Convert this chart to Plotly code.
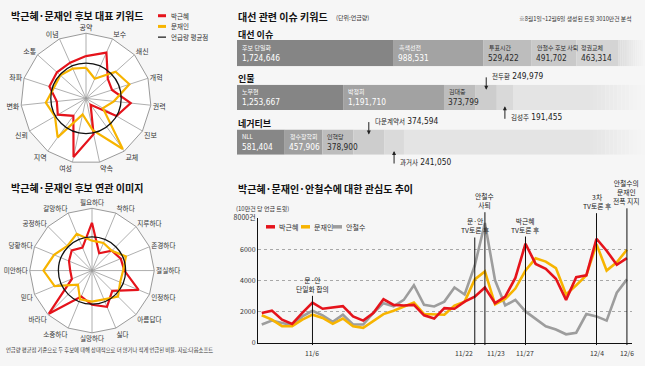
import plotly.graph_objects as go

W, H = 645, 366
BG = '#f6f6f6'
FONT = 'Noto Sans CJK KR, Noto Sans, sans-serif'
NARROW = 'Liberation Sans Narrow, DejaVu Sans Condensed, Noto Sans CJK KR, sans-serif'
RED = '#e5131b'
YEL = '#f7b400'
GRY = '#9d9d9d'

# ---------------- data ----------------
# radar 1: 대표 키워드 (outer ring = 1, 평균 = avg_level)
kw_cats = ['공약', '보수', '쇄신', '개혁', '권력', '진보', '교체', '약속',
           '여성', '지역', '신뢰', '변화', '좌파', '소통', '이념']
kw_park = [0.65, 0.77, 0.45, 0.42, 0.69, 0.54, 0.12, 0.56,
           0.92, 0.33, 0.50, 0.45, 0.59, 0.60, 0.60]
kw_moon = [0.47, 0.33, 0.61, 0.70, 0.43, 0.30, 0.96, 0.50,
           0.25, 0.74, 0.55, 0.62, 0.52, 0.53, 0.50]

# radar 2: 연관 이미지
img_cats = ['필요하다', '착하다', '지루하다', '존경하다', '절실하다', '인정하다',
            '아름답다', '싫다', '실망하다', '소중하다', '바라다', '믿다',
            '미안하다', '당황하다', '공정하다', '갈망하다']
img_park = [0.77, 0.30, 0.45, 0.50, 0.52, 0.81, 0.46, 0.63,
            0.55, 0.45, 0.98, 0.35, 0.35, 0.40, 0.46, 0.40]
img_moon = [0.48, 0.48, 0.45, 0.59, 0.50, 0.49, 0.59, 0.50,
            0.50, 0.50, 0.32, 0.65, 0.78, 0.66, 0.56, 0.64]
avg_level = 0.54

# 대선 관련 이슈 키워드 (언급량)
issue_names = ['후보 단일화', '흑색선전', '투표시간', '안철수 후보 사퇴', '정권교체']
issue_vals = [1724646, 988531, 529422, 491702, 463314]
people_names = ['노무현', '박정희', '김대중', '전두환', '김성주']
people_vals = [1253667, 1191710, 373799, 249979, 191455]
neg_names = ['NLL', '정수장학회', '인혁당', '다운계약서', '과거사']
neg_vals = [581404, 457906, 378900, 374594, 241050]

# 관심도 추이 (10만건 당 언급 트윗), 일별
park_trend = [1900, 2050, 1470, 1200, 1900, 2570, 2170, 2250, 2340, 1680, 1410, 1900,
              2780, 2420, 2380, 2420, 1750, 1540, 2210, 2170, 2630, 2950, 3540, 2530,
              2950, 4150, 6350, 5050, 4740, 4100, 2740, 4200, 4320, 6670, 5900, 5000, 5430]
moon_trend = [1750, 1470, 1050, 1050, 1470, 1790, 1580, 1200, 1540, 1050, 950, 1370,
              1830, 2040, 2320, 2570, 1830, 1830, 1790, 2380, 2630, 4060, 4570, 2460,
              2800, 3470, 4630, 5410, 5200, 4780, 3090, 3680, 4320, 6320, 4630, 5160, 5960]
ahn_trend = [1160, 1410, 1260, 1120, 1680, 2040, 1750, 1330, 1790, 1160, 1160, 1900,
             2530, 2320, 2740, 3680, 2420, 2320, 2630, 3540, 3090, 4950, 7680, 4000,
             2380, 2740, 2000, 1540, 1050, 840, 530, 630, 1830, 1680, 1410, 3200, 4060]
day_index = list(range(len(park_trend)))
event_idx = [5, 21, 22, 26, 33, 36]
event_dates = ['11/6', '11/22', '11/23', '11/27', '12/4', '12/6']
event_texts = ['문·안<br>단일화 합의', '문·안<br>TV토론 후', '안철수<br>사퇴',
               '박근혜<br>TV토론 후', '3차<br>TV토론 후', '안철수의<br>문재인<br>전폭 지지']
y_ticks = [0, 2000, 4000, 6000, 8000]
y_ticktext = ['0', '2000', '4000', '6000', '8000건']

# ---------------- layout helpers ----------------
def px(x):
    return x / W

def py(y):
    return 1 - y / H

def ydom(top, bottom):
    return [1 - bottom / H, 1 - top / H]

def closed(a):
    return list(a) + [a[0]]

fig = go.Figure()
annotations = []
shapes = []

# ---------------- radars ----------------
radars = [
    ('polar', 'polar2', kw_cats, kw_park, kw_moon, (86, 95), 67, 7),
    ('polar3', 'polar4', img_cats, img_park, img_moon, (92, 272), 64, 6.6),
]
for pmain, pcirc, cats, pk, mn, (cx, cy), half, fs in radars:
    fig.add_trace(go.Scatterpolar(r=closed(pk), theta=closed(cats), mode='lines',
                                  line=dict(color=RED, width=2.2), subplot=pmain,
                                  name='박근혜', showlegend=False))
    fig.add_trace(go.Scatterpolar(r=closed(mn), theta=closed(cats), mode='lines',
                                  line=dict(color=YEL, width=2.2), subplot=pmain,
                                  name='문재인', showlegend=False))
    fig.add_trace(go.Scatterpolar(r=[0], theta=[0], mode='markers',
                                  marker=dict(size=1, opacity=0), subplot=pcirc,
                                  showlegend=False, hoverinfo='skip'))
    dom = dict(x=[px(cx - half), px(cx + half)], y=ydom(cy - half, cy + half))
    fig.layout[pmain] = dict(
        domain=dom, bgcolor='white', gridshape='linear',
        angularaxis=dict(type='category', categoryarray=cats, rotation=90,
                         direction='clockwise', showgrid=True, gridcolor='#9a9a9a',
                         gridwidth=0.8, showline=True, linecolor='#9a9a9a',
                         linewidth=1, ticks='', tickfont=dict(size=fs, color='#333')),
        radialaxis=dict(range=[0, 1], showgrid=False, showline=False,
                        showticklabels=False, ticks=''))
    fig.layout[pcirc] = dict(
        domain=dom, bgcolor='rgba(0,0,0,0)',
        angularaxis=dict(showgrid=False, showline=False, showticklabels=False, ticks=''),
        radialaxis=dict(range=[0, 1], tickvals=[avg_level], showgrid=True,
                        gridcolor='#111', gridwidth=1.3, showline=False,
                        showticklabels=False, ticks=''))

# radar legend (manual)
for i, (lbl, col, wd) in enumerate([('박근혜', RED, 3), ('문재인', YEL, 3), ('언급량 평균점', '#111', 1.2)]):
    yy = 10 + i * 11
    shapes.append(dict(type='line', xref='paper', yref='paper', x0=px(158), x1=px(166),
                       y0=py(yy), y1=py(yy), line=dict(color=col, width=wd)))
    annotations.append(dict(text=lbl, xref='paper', yref='paper', x=px(169), y=py(yy),
                            xanchor='left', yanchor='middle', showarrow=False,
                            font=dict(size=6.5, color='#333')))

# ---------------- bars ----------------
rows = [
    ('x2', 'y2', issue_names, issue_vals, (35, 62),
     ['#858585', '#a3a3a3', '#bdbdbd', '#c9c9c9', '#d4d4d4'], 4.49e6, 5, '#dcdcdc'),
    ('x3', 'y3', people_names, people_vals, (81, 107),
     ['#858585', '#a2a2a2', '#bdbdbd', '#cdcdcd', '#d9d9d9'], 4.82e6, 3, '#e4e4e4'),
    ('x4', 'y4', neg_names, neg_vals, (127, 153),
     ['#878787', '#a0a0a0', '#bdbdbd', '#cdcdcd', '#dadada'], 4.97e6, 3, '#e4e4e4'),
]
for xa, ya, names, vals, (yt, yb), cols, rmax, ninline, restcol in rows:
    starts = [sum(vals[:i]) for i in range(len(vals))]
    fig.add_trace(go.Bar(x=vals, base=starts, y=[0] * len(vals), orientation='h',
                         width=1, marker=dict(color=cols, line=dict(width=0)),
                         xaxis=xa, yaxis=ya, showlegend=False, hoverinfo='skip'))
    n = xa[1:]
    fig.layout['xaxis' + n] = dict(domain=[px(237), 1], range=[0, rmax], visible=False,
                                   anchor=ya, fixedrange=True)
    fig.layout['yaxis' + n] = dict(domain=ydom(yt, yb), range=[-0.5, 0.5], visible=False,
                                   anchor=xa, fixedrange=True)
    # fading remainder
    total = sum(vals)
    solid_end = max(total, rmax * (590 - 237) / 408)
    if solid_end > total:
        shapes.append(dict(type='rect', xref=xa, yref=ya, x0=total, x1=solid_end,
                           y0=-0.5, y1=0.5, fillcolor=restcol, line=dict(width=0),
                           layer='below'))
    steps = 14
    c0 = int(restcol[1:3], 16)
    cb = int(BG[1:3], 16)
    for k in range(steps):
        a = solid_end + (rmax - solid_end) * k / steps
        b = solid_end + (rmax - solid_end) * (k + 1) / steps
        c = round(c0 + (cb - c0) * (k + 0.5) / steps)
        shapes.append(dict(type='rect', xref=xa, yref=ya, x0=a, x1=b, y0=-0.5, y1=0.5,
                           fillcolor='#%02x%02x%02x' % (c, c, c), line=dict(width=0),
                           layer='below'))
    for i, (nm, v, s) in enumerate(zip(names, vals, starts)):
        txtcol = 'white' if i < 2 else '#2a2a2a'
        if i < ninline:
            annotations.append(dict(text=nm, xref=xa, yref=ya, x=s, y=0, xshift=3, yshift=6,
                                    xanchor='left', yanchor='middle', showarrow=False,
                                    font=dict(size=6, color=txtcol)))
            annotations.append(dict(text=f'{v:,}', xref=xa, yref=ya, x=s, y=0, xshift=2.5,
                                    yshift=-5, xanchor='left', yanchor='middle',
                                    showarrow=False,
                                    font=dict(size=8.3, color=txtcol, family=NARROW)))
        else:
            above = (i == ninline)
            mid = s + v / 2
            annotations.append(dict(text='', xref=xa, yref=ya, x=mid, y=0.3 if above else -0.35,
                                    ax=0, ay=-14 if above else 14, showarrow=True,
                                    arrowhead=2, arrowsize=0.8, arrowwidth=1,
                                    arrowcolor='#222'))
            annotations.append(dict(
                text=f"<span style='font-size:6.5px'>{nm}</span> {v:,}",
                xref=xa, yref=ya, x=mid, y=0, xshift=4, yshift=21 if above else -20,
                xanchor='left', yanchor='middle', showarrow=False,
                font=dict(size=8.3, color='#222', family=NARROW)))

# ---------------- line chart ----------------
for nm, ys, col in [('안철수', ahn_trend, GRY), ('문재인', moon_trend, YEL),
                    ('박근혜', park_trend, RED)]:
    fig.add_trace(go.Scatter(x=day_index, y=ys, mode='lines', name=nm,
                             line=dict(color=col, width=2.6), xaxis='x5', yaxis='y5',
                             showlegend=False, hoverinfo='skip'))
fig.layout['xaxis5'] = dict(domain=[px(258), px(632)], range=[-0.37, 36.5], anchor='y5',
                            tickvals=event_idx, ticktext=[''] * len(event_idx),
                            showgrid=False, zeroline=False, showline=True,
                            linecolor='#111', linewidth=1, ticks='', fixedrange=True)
fig.layout['yaxis5'] = dict(domain=ydom(218, 346), range=[0, 8000], anchor='x5',
                            tickvals=y_ticks, ticktext=y_ticktext, showgrid=True,
                            gridcolor='#a8a8a8', griddash='dot', gridwidth=1,
                            zeroline=False, showline=True, linecolor='#111', linewidth=1,
                            ticks='', tickfont=dict(size=7, color='#333'), fixedrange=True)
# date labels under the axis (11/22 and 11/23 sit either side of their lines)
date_anchor = {'11/22': 'right', '11/23': 'left'}
for idx, lab in zip(event_idx, event_dates):
    annotations.append(dict(text=lab, xref='x5', yref='y5 domain', x=idx, y=0, yshift=-3,
                            xanchor=date_anchor.get(lab, 'center'), yanchor='top',
                            showarrow=False, font=dict(size=6.8, color='#333')))
event_top = [298, 238, 212, 237, 213, 208]
for idx, txt_, top in zip(event_idx, event_texts, event_top):
    d = (346 - top) / 128
    shapes.append(dict(type='line', xref='x5', yref='y5 domain', x0=idx, x1=idx,
                       y0=-0.02, y1=d, line=dict(color='#111', width=1)))
    annotations.append(dict(text=txt_, xref='x5', yref='y5 domain', x=idx, y=d,
                            yanchor='bottom', xanchor='center', showarrow=False,
                            font=dict(size=6.8, color='#222')))
# line legend (manual)
for lbl, col, x0 in [('박근혜', RED, 266), ('문재인', YEL, 301), ('안철수', GRY, 333)]:
    shapes.append(dict(type='line', xref='paper', yref='paper', x0=px(x0), x1=px(x0 + 9),
                       y0=py(227), y1=py(227), line=dict(color=col, width=3.5)))
    annotations.append(dict(text=lbl, xref='paper', yref='paper', x=px(x0 + 11), y=py(227),
                            xanchor='left', yanchor='middle', showarrow=False,
                            font=dict(size=7, color='#333')))

# ---------------- titles & notes ----------------
def txt(t, x, y, size, anchor='left', color='#111', bold=False):
    annotations.append(dict(text=f'<b>{t}</b>' if bold else t, xref='paper', yref='paper',
                            x=px(x), y=py(y), xanchor=anchor, yanchor='middle',
                            showarrow=False, font=dict(size=size, color=color)))

txt('박근혜·문재인 후보 대표 키워드', 9, 10, 10, bold=True)
txt('박근혜·문재인 후보 연관 이미지', 9, 187, 10, bold=True)
txt('대선 관련 이슈 키워드', 236, 11, 10, bold=True)
txt('(단위:언급량)', 334, 12, 6, color='#333')
txt('※8월1일~12월6일 생성된 트윗 3010만건 분석', 634, 13, 5.8, anchor='right', color='#333')
txt('대선 이슈', 236, 29, 9, bold=True)
txt('인물', 236, 75, 9, bold=True)
txt('네거티브', 236, 121, 9, bold=True)
txt('박근혜·문재인·안철수에 대한 관심도 추이', 236, 188, 10, bold=True)
txt('(10만건 당 언급 트윗)', 234, 208, 6, color='#333')
txt('언급량 평균점 기준으로 두 후보에 대해 상대적으로 더 많거나 적게 언급된 비율. 자료:다음소프트',
    4, 354, 5.3, color='#333')

fig.update_layout(width=W, height=H, margin=dict(l=0, r=0, t=0, b=0),
                  paper_bgcolor=BG, plot_bgcolor=BG,
                  font=dict(family=FONT, size=8, color='#222'),
                  showlegend=False, annotations=annotations, shapes=shapes,
                  barmode='overlay')
fig.write_html('out.html', config={'displayModeBar': False, 'staticPlot': True},
               post_script="document.body.style.margin='0';document.body.style.padding='0';document.body.style.overflow='hidden';document.body.style.background='%s';" % BG)
